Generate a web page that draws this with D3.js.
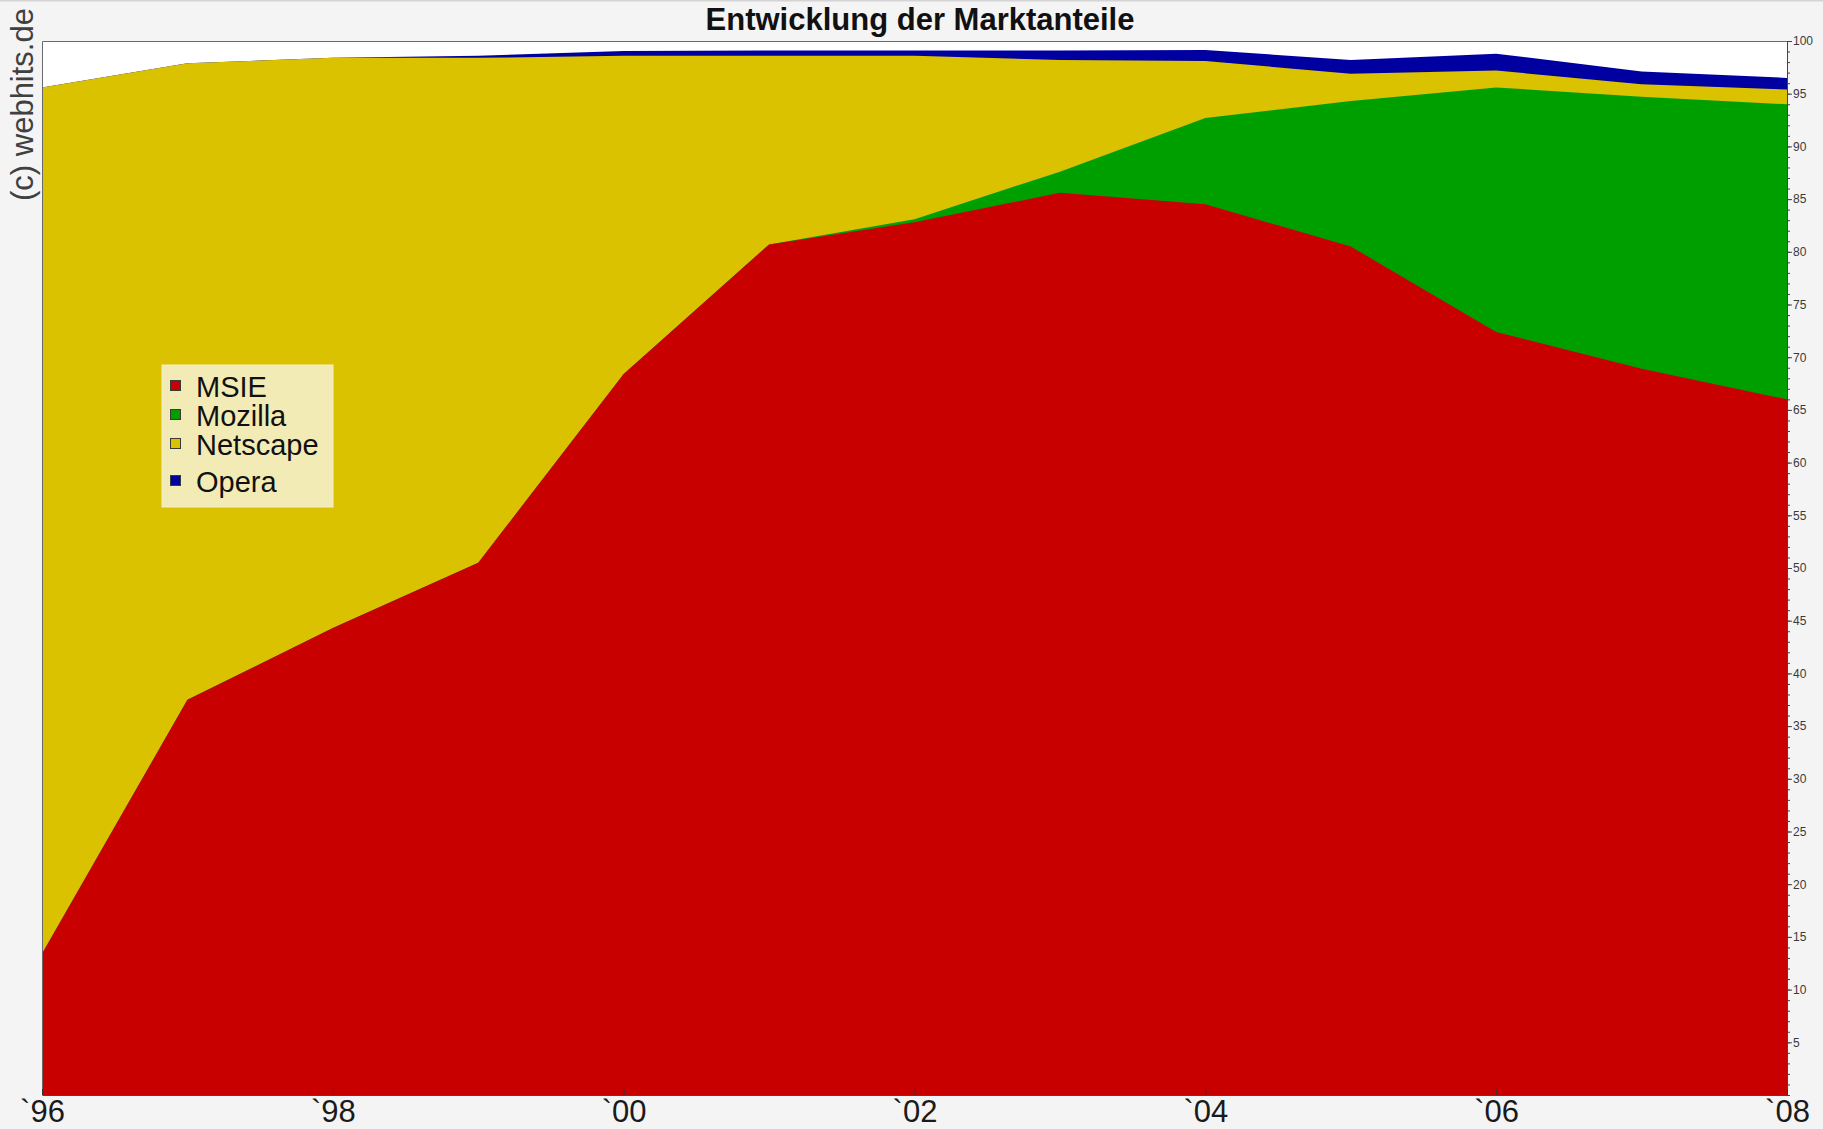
<!DOCTYPE html>
<html>
<head>
<meta charset="utf-8">
<script src="https://cdnjs.cloudflare.com/ajax/libs/d3/7.8.5/d3.min.js"></script>
<style>
  html, body { margin: 0; padding: 0; background: #f4f4f4; }
  svg { display: block; font-family: "Liberation Sans", Arial, sans-serif; }
</style>
</head>
<body>
<svg width="1823" height="1129"></svg>
<script>
// market share in percent
var years    = [1996, 1997, 1998, 1999, 2000, 2001, 2002, 2003, 2004, 2005, 2006, 2007, 2008];
var msie     = [13.4, 37.5, 44.3, 50.5, 68.4, 80.7, 82.8, 85.6, 84.5, 80.5, 72.4, 68.9, 66.0];
var mozilla  = [0, 0, 0, 0, 0, 0, 0.3, 2.0, 8.2, 13.8, 23.2, 25.8, 28.0];
var netscape = [82.2, 60.4, 54.1, 47.9, 30.2, 17.9, 15.5, 10.6, 5.4, 2.6, 1.6, 1.2, 1.4];
var opera    = [0, 0, 0, 0.2, 0.45, 0.5, 0.5, 0.9, 1.05, 1.3, 1.6, 1.2, 1.1];

var browsers = ['MSIE', 'Mozilla', 'Netscape', 'Opera'];
var colors = ['#c80000', '#009f00', '#dbc200', '#0000a0'];
var xTicks = [1996, 1998, 2000, 2002, 2004, 2006, 2008];
var xTickLabels = ['`96', '`98', '`00', '`02', '`04', '`06', '`08'];
var yTicks = [5, 10, 15, 20, 25, 30, 35, 40, 45, 50, 55, 60, 65, 70, 75, 80, 85, 90, 95, 100];

var svg = d3.select('svg'),
  w = +svg.attr('width'),
  h = +svg.attr('height');

// plot box (window.top is reserved, hence the prefixes)
var pLeft = 42, pRight = 1787, pTop = 41, pBottom = 1095;

var x = d3.scaleLinear().domain([1996, 2008]).range([pLeft, pRight]);
var y = d3.scaleLinear().domain([0, 100]).range([pBottom, pTop]);

// build rows for the stack
var series = [msie, mozilla, netscape, opera];
var table = years.map(function(yr, i) {
  var row = { year: yr };
  browsers.forEach(function(b, j) { row[b] = series[j][i]; });
  return row;
});
var stacked = d3.stack().keys(browsers)(table);

// background + frame
svg.append('line').attr('x1', 0).attr('x2', w).attr('y1', 0.5).attr('y2', 0.5)
  .attr('stroke', '#d4d4d4').attr('stroke-width', 2);

svg.append('rect')
  .attr('x', pLeft).attr('y', pTop)
  .attr('width', pRight - pLeft).attr('height', pBottom - pTop)
  .attr('fill', '#ffffff');

// draw every layer down to zero, top layer first, so no seams show
var area = d3.area()
  .x(function(d) { return x(d.data.year); })
  .y0(y(0))
  .y1(function(d) { return y(d[1]); });

svg.append('g').selectAll('path')
  .data(stacked.slice().reverse())
  .enter().append('path')
  .attr('d', area)
  .attr('fill', function(d) { return colors[d.index]; });

// frame lines on left / top
svg.append('path')
  .attr('d', 'M' + (pLeft + 0.5) + ',' + pBottom + 'V' + (pTop + 0.5) + 'H' + pRight)
  .attr('fill', 'none').attr('stroke', '#6a6a6a').attr('stroke-width', 1);

// right axis: minor ticks every 1, labelled ticks every 5
var minor = svg.append('g')
  .attr('transform', 'translate(' + pRight + ',0)')
  .call(d3.axisRight(y).tickValues(d3.range(0, 101, 1)).tickSize(3).tickFormat(''));
minor.select('.domain').attr('stroke', '#444');
minor.selectAll('.tick line').attr('stroke', '#444');

var major = svg.append('g')
  .attr('transform', 'translate(' + pRight + ',0)')
  .call(d3.axisRight(y).tickValues(yTicks).tickSize(5).tickPadding(1));
major.select('.domain').remove();
major.selectAll('.tick line').attr('stroke', '#444');
major.selectAll('.tick text')
  .attr('fill', '#3a3a3a')
  .style('font-size', '12px')
  .style('font-family', '"Liberation Sans", Arial, sans-serif');

// bottom axis, ticks pointing into the plot
var xAxis = svg.append('g')
  .attr('transform', 'translate(0,' + pBottom + ')')
  .call(d3.axisBottom(x).tickValues(xTicks)
    .tickFormat(function(d, i) { return xTickLabels[i]; })
    .tickSizeInner(-6).tickSizeOuter(0).tickPadding(5));
xAxis.select('.domain').attr('stroke', '#444');
xAxis.selectAll('.tick line').attr('stroke', '#333');
xAxis.selectAll('.tick text')
  .attr('fill', '#1a1a1a')
  .style('font-size', '31px')
  .style('font-family', '"Liberation Sans", Arial, sans-serif');

// title
svg.append('text')
  .attr('x', 920).attr('y', 30)
  .attr('text-anchor', 'middle')
  .style('font-size', '31px').style('font-weight', 'bold')
  .attr('fill', '#111')
  .text('Entwicklung der Marktanteile');

// watermark
svg.append('text')
  .attr('transform', 'translate(33,201) rotate(-90)')
  .style('font-size', '31px')
  .attr('fill', '#404040')
  .text('(c) webhits.de');

// legend
var legendBaselines = [397, 426, 455, 492];
var legend = svg.append('g');
legend.append('rect')
  .attr('x', 162).attr('y', 365).attr('width', 171).attr('height', 142)
  .attr('fill', '#f3ebb5').attr('stroke', '#f6efc6');

var item = legend.selectAll('g.item')
  .data(browsers)
  .enter().append('g').attr('class', 'item');
item.append('rect')
  .attr('x', 170.5)
  .attr('y', function(d, i) { return legendBaselines[i] - 16.5; })
  .attr('width', 10).attr('height', 10)
  .attr('fill', function(d, i) { return colors[i]; })
  .attr('stroke', '#3a3a3a').attr('stroke-width', 1);
item.append('text')
  .attr('x', 196)
  .attr('y', function(d, i) { return legendBaselines[i]; })
  .style('font-size', '29px')
  .attr('fill', '#111')
  .text(function(d) { return d; });
</script>
</body>
</html>
